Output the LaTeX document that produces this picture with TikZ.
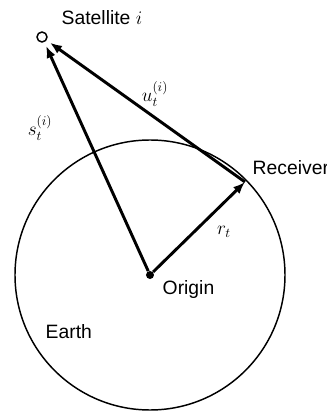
\documentclass[tikz,border=0pt]{standalone}
\usepackage{amsmath}
\usepackage{fontspec}
\setmainfont{Liberation Sans}
\usetikzlibrary{arrows.meta}

\begin{document}
\begin{tikzpicture}[x=0.75pt, y=0.75pt, >={Latex[length=9pt,width=7pt]},
  font=\fontsize{14.5}{17}\selectfont]

\useasboundingbox (0,0) rectangle (327,412);

% earth
\draw[line width=1.1pt] (150,137) circle[radius=135];
\node at (41,80) [right] (earth) {Earth};

\node[circle, fill, inner sep=0pt, minimum size=6pt] (origin) at (150,137) {};
\node at (158,122) [right] (originlabel) {Origin};

\coordinate (receiver) at (245,230);
\node at (248,244) [right] (receiverlabel) {Receiver};

\node[circle, draw, line width=1.1pt, inner sep=0pt, minimum size=7.5pt] (sat) at (42,375) {};
\node at (57,394) [right] (satlabel) {Satellite $i$};

\draw[->, line width=2.2pt] (origin) -- (receiver);
\draw[->, line width=2.2pt, shorten >=3pt] (origin) -- (sat);
\draw[->, line width=2.2pt, shorten >=3pt] (receiver) -- (sat);

\node at (40,284) (slabel) {$s_t^{(i)}$};
\node at (155,318) (ulabel) {$u_t^{(i)}$};
\node at (224,180) (rlabel) {$r_t$};

\end{tikzpicture}
\end{document}
